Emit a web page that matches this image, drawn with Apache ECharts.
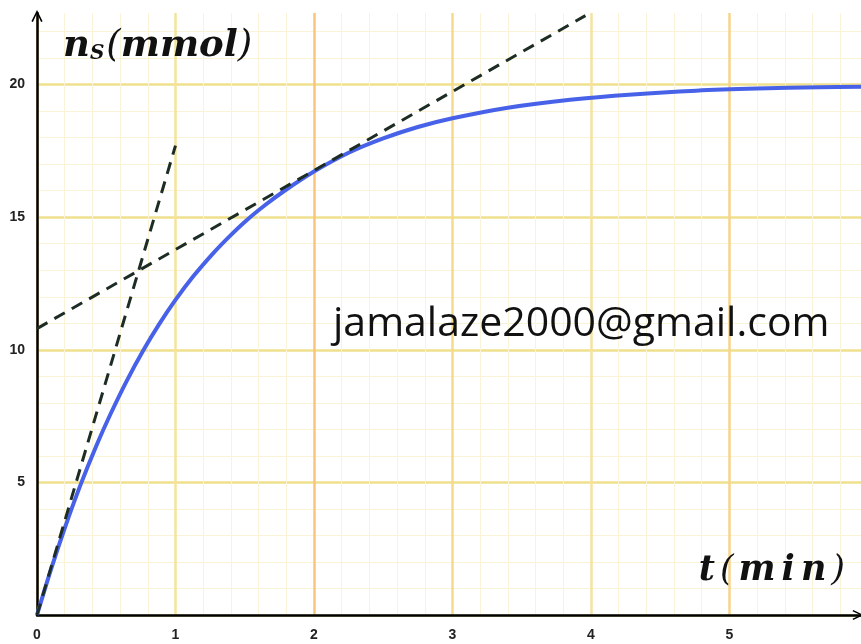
<!DOCTYPE html>
<html><head><meta charset="utf-8">
<script src="https://cdn.jsdelivr.net/npm/echarts@6/dist/echarts.min.js"></script>
<style>html,body{margin:0;padding:0;background:#fff}#c{width:861px;height:644px}</style>
</head><body><div id="c"></div>
<script>
// values
const timeMin = [0, 0.1, 0.2, 0.31, 0.43, 0.53, 0.65, 0.77, 0.88, 1.0, 1.13, 1.27, 1.39, 1.51, 1.65, 1.78, 2.0, 2.25, 2.5, 2.75, 3.0, 3.4, 3.85, 4.3, 4.76, 5.2, 5.65, 5.95];
const nS      = [0, 1.7, 3.27, 4.85, 6.4, 7.57, 8.85, 10.0, 10.95, 11.88, 12.78, 13.63, 14.28, 14.87, 15.47, 15.97, 16.72, 17.43, 17.97, 18.4, 18.73, 19.13, 19.43, 19.63, 19.77, 19.85, 19.9, 19.92];
const tangentOriginT = [0, 1.0];
const tangentOriginN = [0, 17.7];
const tangentT2T = [0, 3.96];
const tangentT2N = [10.8, 22.6];
const xTickLabels = [0, 1, 2, 3, 4, 5];
const yTickLabels = [5, 10, 15, 20];
const watermark = 'jamalaze2000@gmail.com';

const zip = (a, b) => a.map((v, i) => [v, b[i]]);
const arrow = 'path://M0,12 L6,0 L12,12 L10.4,12.9 L6,3.6 L1.6,12.9 Z';
const labelFont = {fontFamily: '"Liberation Sans Narrow","Liberation Sans",Arial,sans-serif', fontWeight: 'bold', fontSize: 14, color: '#222'};
const mathFont = '"DejaVu Serif","Liberation Serif",serif';
const mb = {fontFamily: mathFont, fontStyle: 'italic', fontWeight: 'bold', fontSize: 37, color: '#111'};

const chart = echarts.init(document.getElementById('c'), null, {renderer: 'canvas'});
chart.setOption({
  animation: false,
  backgroundColor: '#ffffff',
  grid: {left: 37, right: 0, top: 13, bottom: 29, containLabel: false},
  xAxis: {
    type: 'value', min: 0, max: 5.95, interval: 1,
    name: '{t|t}{p|(}{m|m}{m|i}{m|n}{p|)}',
    nameLocation: 'end', nameGap: -14,
    nameTextStyle: {
      align: 'right', verticalAlign: 'bottom', padding: [0, 0, 27, 0],
      rich: {
        t: Object.assign({}, mb, {fontSize: 35, padding: [0, 3, 0, 0]}),
        m: Object.assign({}, mb, {fontSize: 35, padding: [0, 3, 0, 3]}),
        p: {fontFamily: mathFont, fontStyle: 'italic', fontSize: 35, color: '#111', padding: [0, 2, 0, 2]}
      }
    },
    axisLine: {show: true, onZero: false, symbol: ['none', arrow], symbolSize: [13, 11], symbolOffset: [0, -3],
      lineStyle: {color: '#000', width: 2.5}},
    axisTick: {show: false},
    axisLabel: Object.assign({margin: 13, showMaxLabel: false,
      formatter: v => xTickLabels.includes(v) ? String(v) : ''}, labelFont),
    splitLine: {show: true, showMaxLine: false,
      lineStyle: {width: 2.5, color: ['#f5e49c', '#f4e39a', '#fbc47c', '#f6da8c', '#f5e2a0', '#f7d48a', '#ffffff']}},
    minorTick: {show: false, splitNumber: 5},
    minorSplitLine: {show: true, lineStyle: {color: '#fbf3d8', width: 1}}
  },
  yAxis: {
    type: 'value', min: 0, max: 22.7, interval: 5,
    name: '{n|n}{s|S}{p|(}{m|mmol}{p|)}',
    nameLocation: 'end', nameGap: -33,
    nameTextStyle: {
      align: 'left', verticalAlign: 'middle', padding: [0, 0, 0, 26],
      rich: {
        n: mb,
        s: Object.assign({}, mb, {fontSize: 20, padding: [16, 2, 0, 0]}),
        m: Object.assign({}, mb, {padding: [0, 0, 0, 0]}),
        p: {fontFamily: mathFont, fontStyle: 'italic', fontSize: 37, color: '#111'}
      }
    },
    axisLine: {show: true, onZero: false, symbol: ['none', arrow], symbolSize: [14, 12], symbolOffset: [0, -3],
      lineStyle: {color: '#000', width: 2.5}},
    axisTick: {show: false},
    axisLabel: Object.assign({margin: 12, showMinLabel: false, showMaxLabel: false,
      formatter: v => yTickLabels.includes(v) ? String(v) : ''}, labelFont),
    splitLine: {show: true, showMaxLine: false, lineStyle: {width: 2.5, color: '#efe08e'}},
    minorTick: {show: false, splitNumber: 5},
    minorSplitLine: {show: true, lineStyle: {color: '#fbf3d8', width: 1}}
  },
  graphic: [{
    type: 'text', left: 333, top: 304, z: 20,
    style: {text: watermark, fontFamily: '"Open Sans","Noto Sans",sans-serif', fontSize: 41, fill: '#111'}
  }],
  series: [
    {type: 'line', data: zip(timeMin, nS), smooth: 0.3, showSymbol: false, z: 3,
      lineStyle: {color: '#4762e8', width: 4}},
    {type: 'line', data: zip(tangentOriginT, tangentOriginN), showSymbol: false, z: 4,
      lineStyle: {color: '#1e2d24', width: 3, type: [12, 8]}},
    {type: 'line', data: zip(tangentT2T, tangentT2N), showSymbol: false, z: 4,
      lineStyle: {color: '#1e2d24', width: 3, type: [12, 8]}}
  ]
});
</script></body></html>
